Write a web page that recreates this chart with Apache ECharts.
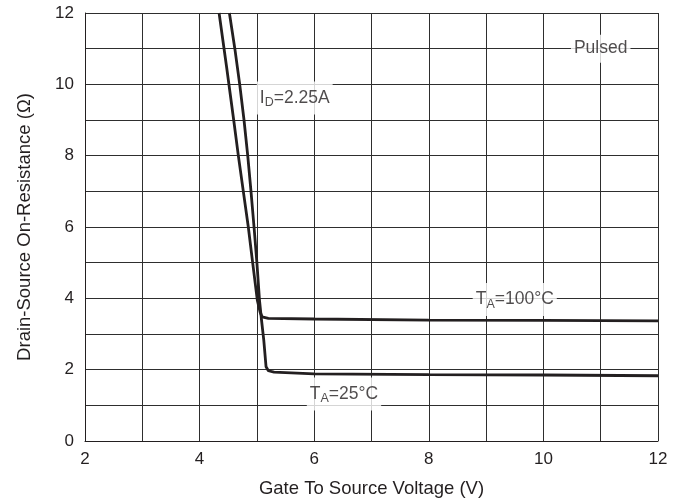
<!DOCTYPE html>
<html>
<head>
<meta charset="utf-8">
<script src="https://cdn.jsdelivr.net/npm/echarts@6/dist/echarts.min.js"></script>
<style>html,body{margin:0;padding:0;background:#fff}#c{width:681px;height:504px}</style>
</head>
<body>
<div id="c"></div>
<script>
// Gate-source voltage (V) / on-resistance (ohm)
const vgs100 = [4.34, 4.47, 4.595, 4.676, 4.763, 4.85, 4.926, 5.007, 5.055, 5.09, 5.2, 6, 8, 10, 12];
const rds100 = [12, 10.5, 9, 8, 7, 6, 5, 3.95, 3.62, 3.48, 3.44, 3.42, 3.39, 3.38, 3.37];
const vgs25 = [4.52, 4.615, 4.70, 4.775, 4.84, 4.897, 4.95, 5.0, 5.045, 5.08, 5.12, 5.16, 5.2, 5.3, 6, 8, 10, 12];
const rds25 = [12, 11, 10, 9, 8, 7, 6, 5, 3.95, 3.4, 2.83, 2.08, 1.97, 1.93, 1.88, 1.86, 1.85, 1.83];
const xTicks = [2, 4, 6, 8, 10, 12];
const yTicks = [0, 2, 4, 6, 8, 10, 12];
const noteX = [11.0, 9.5, 6.52, 5.66];
const noteY = [11, 3.97, 1.32, 9.62];
const noteText = ['{t|Pulsed}', '{t|T}{s|A}{t|=100°C}', '{t|T}{s|A}{t|=25°C}', '{t|I}{s|D}{t|=2.25A}'];

const FONT = '"Liberation Sans", Arial, sans-serif';
const INK = '#231f20';
const pairs = (xs, ys) => xs.map((x, i) => [x, ys[i]]);

const chart = echarts.init(document.getElementById('c'), null, {renderer: 'canvas'});
chart.setOption({
  animation: false,
  backgroundColor: '#fff',
  grid: {left: 85, right: 23, top: 13, bottom: 63, show: false},
  xAxis: {
    type: 'value', min: 2, max: 12, interval: 1,
    name: 'Gate To Source Voltage (V)', nameLocation: 'middle', nameGap: 38,
    nameTextStyle: {fontFamily: FONT, fontSize: 18.5, color: INK},
    axisLine: {show: true, onZero: false, lineStyle: {color: INK, width: 1}},
    axisTick: {show: false},
    axisLabel: {fontFamily: FONT, fontSize: 17, color: INK, margin: 10,
      formatter: v => xTicks.includes(v) ? String(v) : ''},
    splitLine: {show: true, lineStyle: {color: '#2e2e2e', width: 1}}
  },
  yAxis: {
    type: 'value', min: 0, max: 12, interval: 1,
    name: 'Drain-Source On-Resistance (Ω)', nameLocation: 'middle', nameGap: 51,
    nameTextStyle: {fontFamily: FONT, fontSize: 18.5, color: INK},
    axisLine: {show: true, onZero: false, lineStyle: {color: INK, width: 1}},
    axisTick: {show: false},
    axisLabel: {fontFamily: FONT, fontSize: 17, color: INK, margin: 11,
      formatter: v => yTicks.includes(v) ? String(v) : ''},
    splitLine: {show: true, lineStyle: {color: '#2e2e2e', width: 1}}
  },
  series: [
    {type: 'line', data: pairs(vgs100, rds100), showSymbol: false, symbol: 'none',
      lineStyle: {color: INK, width: 2.8}, z: 3},
    {type: 'line', data: pairs(vgs25, rds25), showSymbol: false, symbol: 'none',
      lineStyle: {color: INK, width: 2.8}, z: 3},
    {type: 'scatter', symbolSize: 0, z: 5, silent: true,
      data: noteX.map((x, i) => ({value: [x, noteY[i]], label: {formatter: noteText[i]}})),
      label: {show: true, position: 'inside', backgroundColor: '#fff', padding: [5, 3, 5, 3],
        rich: {
          t: {fontFamily: FONT, fontSize: 17.5, color: INK},
          s: {fontFamily: FONT, fontSize: 12.5, color: INK, padding: [10, 0, 0, 0]}
        }}
    }
  ]
});
</script>
</body>
</html>
